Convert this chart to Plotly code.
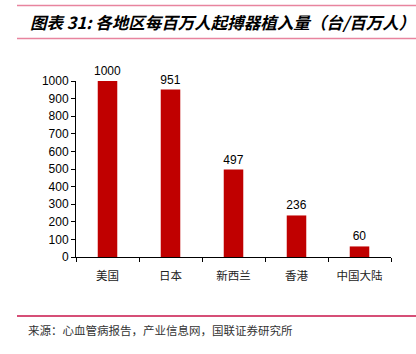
import plotly.graph_objects as go

categories = ["美国", "日本", "新西兰", "香港", "中国大陆"]
values = [1000, 951, 497, 236, 60]
y_ticks = list(range(0, 1001, 100))

title_text = "<b><i>图表 31: 各地区每百万人起搏器植入量（台/百万人）</i></b>"
source_text = "来源：心血管病报告，产业信息网，国联证券研究所"

W, H = 416, 354
L, R, T, B = 76, 391, 81, 257  # plot area in pixels


def px(x):
    return (x - L) / (R - L)


def py(y):
    return (B - y) / (B - T)


fig = go.Figure(
    go.Bar(
        x=categories,
        y=values,
        marker=dict(color="#C00000", line=dict(width=0)),
        width=0.31,
        text=[str(v) for v in values],
        textposition="outside",
        constraintext="none",
        textfont=dict(family="Liberation Sans, Arial", size=12, color="#000"),
        cliponaxis=False,
    )
)

fig.update_layout(
    width=W,
    height=H,
    margin=dict(l=L, r=W - R, t=T, b=H - B, pad=0),
    paper_bgcolor="white",
    plot_bgcolor="white",
    showlegend=False,
    uniformtext=dict(mode=False),
    xaxis=dict(
        type="category",
        showline=True,
        linecolor="#000",
        linewidth=1,
        ticks="outside",
        tickson="boundaries",
        ticklen=4,
        tickcolor="#000",
        ticklabelstandoff=8,
        tickfont=dict(family="Noto Sans CJK SC", size=11.5, color="#222"),
        showgrid=False,
        zeroline=False,
    ),
    yaxis=dict(
        range=[0, 1000],
        tickvals=y_ticks,
        showline=True,
        linecolor="#000",
        linewidth=1,
        ticks="outside",
        ticklen=4,
        tickcolor="#000",
        tickfont=dict(family="Liberation Sans, Arial", size=12, color="#000"),
        showgrid=False,
        zeroline=False,
    ),
    shapes=[
        dict(type="line", xref="paper", yref="paper", x0=px(17), x1=px(416), y0=py(5.5), y1=py(5.5),
             line=dict(color="#E8849E", width=1.5)),
        dict(type="line", xref="paper", yref="paper", x0=px(17), x1=px(416), y0=py(38.5), y1=py(38.5),
             line=dict(color="#E8849E", width=1.5)),
        dict(type="line", xref="paper", yref="paper", x0=px(17), x1=px(416), y0=py(316), y1=py(316),
             line=dict(color="#C8154A", width=1.5)),
    ],
    annotations=[
        dict(text=title_text, xref="paper", yref="paper", x=px(28), y=py(22), xanchor="left", yanchor="middle",
             showarrow=False, font=dict(family="Noto Sans CJK SC", size=16.5, color="#000")),
        dict(text=source_text, xref="paper", yref="paper", x=px(26), y=py(330), xanchor="left", yanchor="middle",
             showarrow=False, font=dict(family="Noto Sans CJK SC", size=11.5, color="#333")),
    ],
)

fig.write_html("out.html")
